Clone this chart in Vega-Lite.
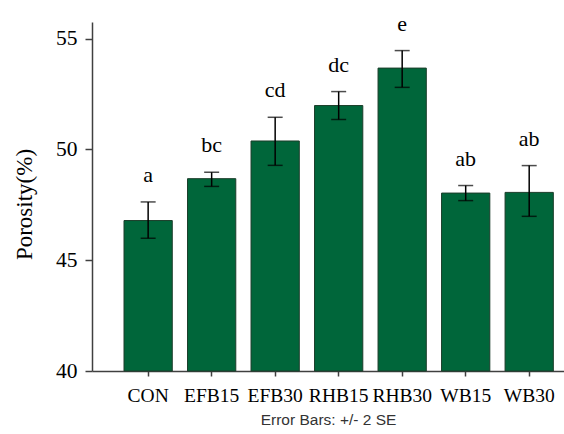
{
  "$schema": "https://vega.github.io/schema/vega-lite/v6.json",
  "autosize": "none",
  "width": 472,
  "height": 349,
  "padding": {"left": 92, "top": 22, "right": 0, "bottom": 63},
  "background": "white",
  "config": {"view": {"stroke": null}},
  "data": {
    "values": [
      {"treatment": "CON", "mean": 46.79, "lo": 45.99, "hi": 47.63, "group": "a"},
      {"treatment": "EFB15", "mean": 48.68, "lo": 48.33, "hi": 48.97, "group": "bc"},
      {"treatment": "EFB30", "mean": 50.38, "lo": 49.28, "hi": 51.45, "group": "cd"},
      {"treatment": "RHB15", "mean": 51.98, "lo": 51.35, "hi": 52.61, "group": "dc"},
      {"treatment": "RHB30", "mean": 53.67, "lo": 52.8, "hi": 54.46, "group": "e"},
      {"treatment": "WB15", "mean": 48.03, "lo": 47.69, "hi": 48.37, "group": "ab"},
      {"treatment": "WB30", "mean": 48.06, "lo": 46.98, "hi": 49.27, "group": "ab"}
    ]
  },
  "encoding": {
    "x": {
      "field": "treatment",
      "type": "nominal",
      "sort": null,
      "scale": {"paddingInner": 0.24, "paddingOuter": 0.336, "align": 0.75},
      "axis": {
        "title": "Error Bars: +/- 2 SE",
        "titleFont": "Liberation Sans",
        "titleFontSize": 15.5,
        "titleFontWeight": "normal",
        "titleColor": "#333333",
        "titlePadding": 8,
        "labelAngle": 0,
        "labelFont": "Liberation Serif",
        "labelFontSize": 19.5,
        "labelColor": "#000000",
        "labelPadding": 10,
        "tickSize": 5,
        "tickColor": "#404040",
        "tickWidth": 1.5,
        "domainColor": "#404040",
        "domainWidth": 1.5
      }
    }
  },
  "layer": [
    {
      "mark": {"type": "bar", "color": "#00663a", "stroke": "#1b3d2a", "strokeWidth": 1},
      "encoding": {
        "y": {
          "field": "mean",
          "type": "quantitative",
          "scale": {"domain": [40, 55.75], "nice": false, "zero": false},
          "axis": {
            "values": [40, 45, 50, 55],
            "grid": false,
            "title": "Porosity(%)",
            "titleFont": "Liberation Serif",
            "titleFontSize": 23,
            "titleFontWeight": "normal",
            "titleColor": "#000000",
            "titleX": -68,
            "titleY": 182,
            "titleBaseline": "middle",
            "labelFont": "Liberation Serif",
            "labelFontSize": 21.5,
            "labelColor": "#000000",
            "labelPadding": 8,
            "tickSize": 7,
            "tickColor": "#404040",
            "tickWidth": 1.5,
            "domainColor": "#404040",
            "domainWidth": 1.5
          }
        },
        "y2": {"datum": 40}
      }
    },
    {
      "mark": {"type": "rule", "color": "#000000", "strokeWidth": 1.5},
      "encoding": {
        "y": {"field": "lo", "type": "quantitative"},
        "y2": {"field": "hi"}
      }
    },
    {
      "mark": {"type": "tick", "color": "#000000", "size": 15, "thickness": 1.5},
      "encoding": {"y": {"field": "lo", "type": "quantitative"}}
    },
    {
      "mark": {"type": "tick", "color": "#000000", "size": 15, "thickness": 1.5},
      "encoding": {"y": {"field": "hi", "type": "quantitative"}}
    },
    {
      "mark": {"type": "text", "font": "Liberation Serif", "fontSize": 22, "baseline": "alphabetic", "dy": -20, "color": "#000000"},
      "encoding": {
        "y": {"field": "hi", "type": "quantitative"},
        "text": {"field": "group"}
      }
    }
  ]
}
